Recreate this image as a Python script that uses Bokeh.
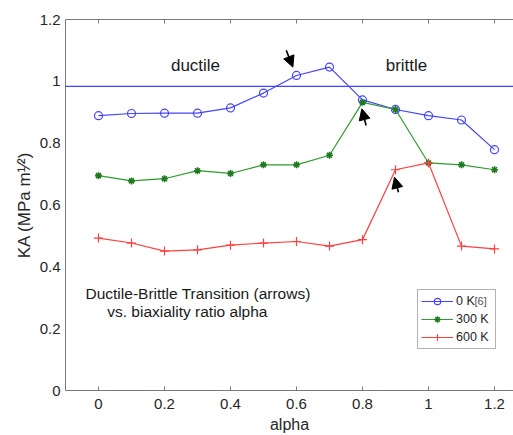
import math
from bokeh.plotting import figure
from bokeh.models import (Range1d, LinearAxis, FixedTicker, Span, Label, Arrow,
                          NormalHead, Legend, LegendItem, ColumnDataSource,
                          CustomLabelingPolicy)
from bokeh.embed import file_html
from bokeh.resources import INLINE

# ---------------- data ----------------
alpha = [0.0, 0.1, 0.2, 0.3, 0.4, 0.5, 0.6, 0.7, 0.8, 0.9, 1.0, 1.1, 1.2]
ka_0K = [0.889, 0.896, 0.897, 0.897, 0.914, 0.962, 1.019, 1.046, 0.940, 0.909, 0.889, 0.875, 0.779]
ka_300K = [0.695, 0.678, 0.685, 0.711, 0.702, 0.730, 0.730, 0.761, 0.932, 0.909, 0.736, 0.730, 0.714]
ka_600K = [0.493, 0.477, 0.451, 0.455, 0.470, 0.477, 0.482, 0.467, 0.488, 0.714, 0.736, 0.467, 0.458]
threshold_0K = 0.984

series_labels = ["0 K", "300 K", "600 K"]

x_ticks = [0.0, 0.2, 0.4, 0.6, 0.8, 1.0, 1.2]
x_tick_labels = ["0", "0.2", "0.4", "0.6", "0.8", "1", "1.2"]
y_ticks = [0.0, 0.2, 0.4, 0.6, 0.8, 1.0, 1.2]
y_tick_labels = ["0", "0.2", "0.4", "0.6", "0.8", "1", "1.2"]

# transition arrows (tail -> head)
arrow_x0 = [0.569, 0.811, 0.909]
arrow_y0 = [1.100, 0.857, 0.641]
arrow_x1 = [0.589, 0.798, 0.897]
arrow_y1 = [1.046, 0.911, 0.690]

# ---------------- layout ----------------
W, H = 513, 435
LEFT, TOP, BOTTOM = 65, 19, 45
frame_w = W - LEFT
frame_h = H - TOP - BOTTOM
XPX = 330.0
x0 = -0.1
x1 = x0 + frame_w / XPX
y0, y1 = 0.0, 1.2
YPX = frame_h / (y1 - y0)

def dx(px):
    return x0 + (px - LEFT) / XPX

def dy(py):
    return (TOP + frame_h - py) / YPX

FONT = "Liberation Sans"
TXT = "#262626"
AX = "#7a7a7a"
BLUE = "#4444ff"
GREEN = "#2f9a2f"
RED = "#ff4040"

p = figure(width=W, height=H, output_backend="svg", toolbar_location=None,
           x_range=Range1d(x0, x1), y_range=Range1d(y0, y1),
           min_border_left=LEFT, min_border_top=TOP, min_border_bottom=BOTTOM,
           min_border_right=0, x_axis_location=None, y_axis_location=None)
p.outline_line_color = None
p.xgrid.visible = False
p.ygrid.visible = False
p.background_fill_color = "white"
p.border_fill_color = "white"

def style_axis(ax, ticks, labels, tick_in):
    ax.ticker = FixedTicker(ticks=ticks)
    ax.major_label_overrides = {t: l for t, l in zip(ticks, labels)}
    ax.major_tick_in = tick_in
    ax.major_tick_out = 0
    ax.minor_tick_in = 0
    ax.minor_tick_out = 0
    ax.axis_line_color = AX
    ax.major_tick_line_color = AX
    ax.major_label_text_font = FONT
    ax.major_label_text_font_size = "15px"
    ax.major_label_text_color = TXT

xb = LinearAxis()
style_axis(xb, x_ticks, x_tick_labels, 4)
xb.major_label_standoff = 8
xb.axis_label = "alpha"
xb.axis_label_text_font = FONT
xb.axis_label_text_font_size = "16px"
xb.axis_label_text_font_style = "normal"
xb.axis_label_text_color = TXT
xb.axis_label_standoff = 4
p.add_layout(xb, "below")

# top border with inward ticks, no labels
xt = LinearAxis()
style_axis(xt, x_ticks, x_tick_labels, 4)
xt.major_label_standoff = 0
xt.major_label_policy = CustomLabelingPolicy(
    code="for (let i = 0; i < indices.size; i++) { indices.unset(i) } return indices")
p.add_layout(xt, "above")

yl = LinearAxis()
style_axis(yl, y_ticks, y_tick_labels, 0)
yl.major_label_standoff = 5
yl.axis_label = "KA (MPa m\u00b9\u2044\u00b2)"
yl.axis_label_text_font = FONT
yl.axis_label_text_font_size = "17px"
yl.axis_label_text_font_style = "normal"
yl.axis_label_text_color = TXT
yl.axis_label_standoff = 3
p.add_layout(yl, "left")

# threshold line
p.add_layout(Span(location=threshold_0K, dimension="width", line_color=BLUE, line_width=1.2))

# series
l0 = p.line(alpha, ka_0K, line_color=BLUE, line_width=1.2)
m0 = p.scatter(alpha, ka_0K, marker="circle", size=8, line_color=BLUE,
               fill_color=None, line_width=1.2)
l1 = p.line(alpha, ka_300K, line_color=GREEN, line_width=1.2)
m1 = p.scatter(alpha, ka_300K, marker="asterisk", size=7, line_color="#1f7a1f",
               line_width=1.6)
l2 = p.line(alpha, ka_600K, line_color=RED, line_width=1.2)
m2 = p.scatter(alpha, ka_600K, marker="cross", size=9, line_color=RED, line_width=1.2)

# arrows
asrc = ColumnDataSource(dict(x0=arrow_x0, y0=arrow_y0, x1=arrow_x1, y1=arrow_y1))
p.add_layout(Arrow(x_start="x0", y_start="y0", x_end="x1", y_end="y1", source=asrc,
                   line_color="black", line_width=1.6,
                   end=NormalHead(size=11, fill_color="black", line_color="black",
                                  line_width=1)))

# text annotations
p.add_layout(Label(x=dx(195), y=dy(65), text="ductile", text_align="center",
                   text_baseline="middle", text_font=FONT, text_font_size="17px",
                   text_color="#1a1a1a"))
p.add_layout(Label(x=dx(406), y=dy(65), text="brittle", text_align="center",
                   text_baseline="middle", text_font=FONT, text_font_size="17px",
                   text_color="#1a1a1a"))
p.add_layout(Label(x=dx(85), y=dy(293), text="Ductile-Brittle Transition (arrows)",
                   text_align="left", text_baseline="middle", text_font=FONT,
                   text_font_size="15.5px", text_color="#1a1a1a"))
p.add_layout(Label(x=dx(106.7), y=dy(310.7), text="vs. biaxiality ratio alpha",
                   text_align="left", text_baseline="middle", text_font=FONT,
                   text_font_size="15.5px", text_color="#1a1a1a"))

# reference marker next to the first legend entry
p.add_layout(Label(x=dx(474), y=dy(300), text="[6]", text_align="left",
                   text_baseline="middle", text_font=FONT, text_font_size="11px",
                   text_color="#555555"))

# legend (transparent background so the [6] note shows)
legend = Legend(items=[LegendItem(label=series_labels[0], renderers=[l0, m0]),
                       LegendItem(label=series_labels[1], renderers=[l1, m1]),
                       LegendItem(label=series_labels[2], renderers=[l2, m2])],
                location=(417 - LEFT, TOP + frame_h - 349))
legend.glyph_width = 32
legend.glyph_height = 16
legend.label_height = 16
legend.label_width = 36
legend.label_standoff = 3
legend.spacing = 2
legend.padding = 3
legend.margin = 0
legend.label_text_font = FONT
legend.label_text_font_size = "12.5px"
legend.label_text_color = TXT
legend.border_line_color = "#666666"
legend.border_line_width = 1
legend.background_fill_alpha = 0
p.add_layout(legend, "center")

open("out.html", "w").write(file_html(p, INLINE))
